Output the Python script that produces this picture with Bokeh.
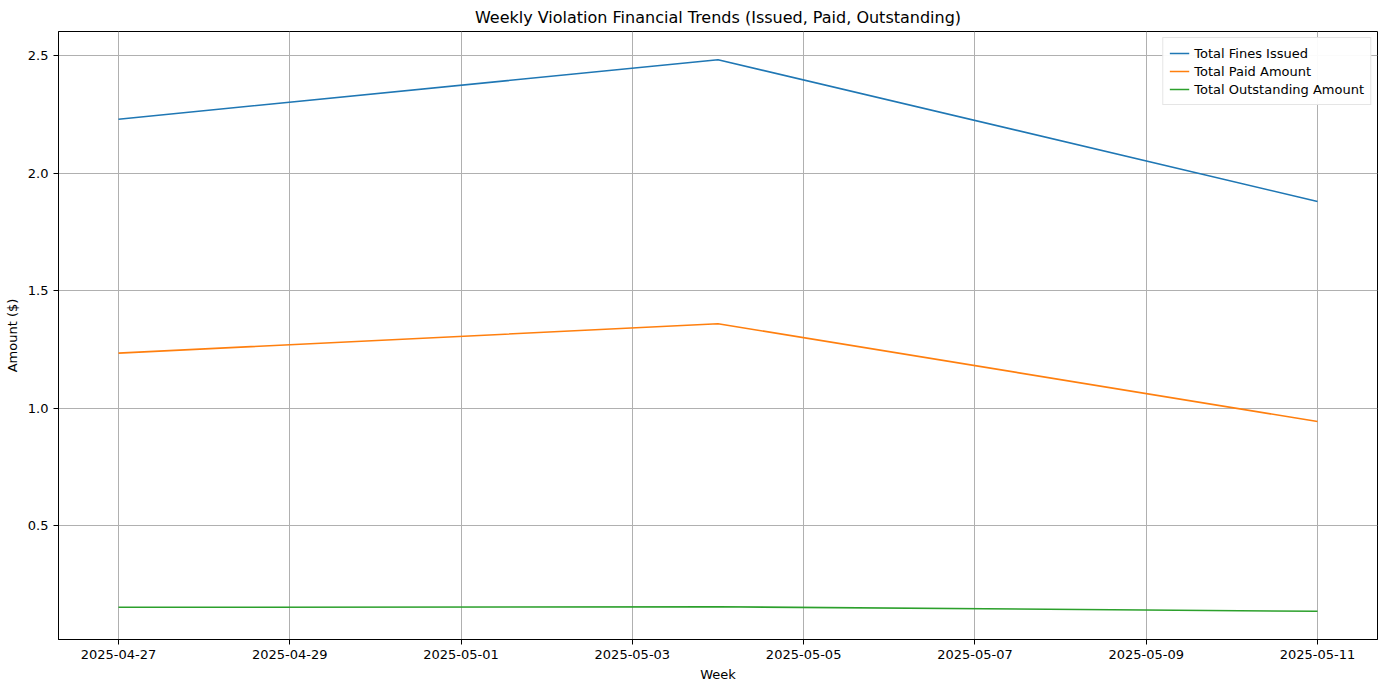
from datetime import datetime, timedelta
from bokeh.plotting import figure
from bokeh.models import FixedTicker, DatetimeTickFormatter, Range1d, Label, Legend, LegendItem
from bokeh.embed import file_html
from bokeh.resources import INLINE

weeks = ["2025-04-27", "2025-05-04", "2025-05-11"]
fines_issued = [22.3e6, 24.83e6, 18.8e6]
paid_amount = [12.35e6, 13.6e6, 9.44e6]
outstanding = [1.54e6, 1.56e6, 1.37e6]
y_ticks = [0.5e7, 1.0e7, 1.5e7, 2.0e7, 2.5e7]
y_labels = ["0.5", "1.0", "1.5", "2.0", "2.5"]

dates = [datetime.strptime(w, "%Y-%m-%d") for w in weeks]
ms = lambda d: d.timestamp() * 1000

p = figure(width=1384, height=684, x_axis_type="datetime", output_backend="svg",
           toolbar_location=None, title="Weekly Violation Financial Trends (Issued, Paid, Outstanding)",
           min_border_left=58, min_border_right=7, min_border_top=29, min_border_bottom=42)
p.title.align = "center"
p.title.text_font_size = "16px"
p.title.text_font_style = "normal"
p.title.text_font = "DejaVu Sans"
p.title.text_color = "black"
x0 = dates[0] - timedelta(days=0.7)
p.x_range = Range1d(x0, dates[-1] + timedelta(days=0.7))
p.y_range = Range1d(0.017e7, 2.603e7)

r1 = p.line(dates, fines_issued, color="#1f77b4", line_width=1.6)
r2 = p.line(dates, paid_amount, color="#ff7f0e", line_width=1.6)
r3 = p.line(dates, outstanding, color="#2ca02c", line_width=1.6)

xt = [ms(dates[0] + timedelta(days=2 * i)) for i in range(8)]
p.xaxis.ticker = FixedTicker(ticks=xt)
p.xaxis.formatter = DatetimeTickFormatter(days="%Y-%m-%d", months="%Y-%m-%d", hours="%Y-%m-%d")
p.yaxis.ticker = FixedTicker(ticks=y_ticks)
p.yaxis.major_label_overrides = {t: l for t, l in zip(y_ticks, y_labels)}
p.xaxis.axis_label = "Week"
p.yaxis.axis_label = "Amount ($)"
for ax in (p.xaxis, p.yaxis):
    ax.axis_label_text_font_style = "normal"
    ax.axis_label_text_font_size = "13px"
    ax.major_label_text_font_size = "13px"
    ax.axis_label_text_font = "DejaVu Sans"
    ax.major_label_text_font = "DejaVu Sans"
    ax.axis_label_text_color = "black"
    ax.major_label_text_color = "black"
    ax.minor_tick_line_color = None
    ax.major_tick_out = 5
    ax.major_tick_in = 0
p.grid.grid_line_color = "#b0b0b0"
p.grid.grid_line_alpha = 1
p.outline_line_color = "black"

p.add_layout(Label(x=ms(x0), y=2.603e7, text="1e7", text_font_size="13px", text_font="DejaVu Sans",
                   text_color="black", y_offset=2))

legend = Legend(items=[LegendItem(label="Total Fines Issued", renderers=[r1]),
                       LegendItem(label="Total Paid Amount", renderers=[r2]),
                       LegendItem(label="Total Outstanding Amount", renderers=[r3])],
                location="top_right", label_text_font_size="13px", label_text_font="DejaVu Sans",
                label_text_color="black", border_line_color="#cccccc", spacing=0, padding=6,
                label_height=18, glyph_height=18, margin=6)
p.add_layout(legend)

open("out.html", "w").write(file_html(p, INLINE))
